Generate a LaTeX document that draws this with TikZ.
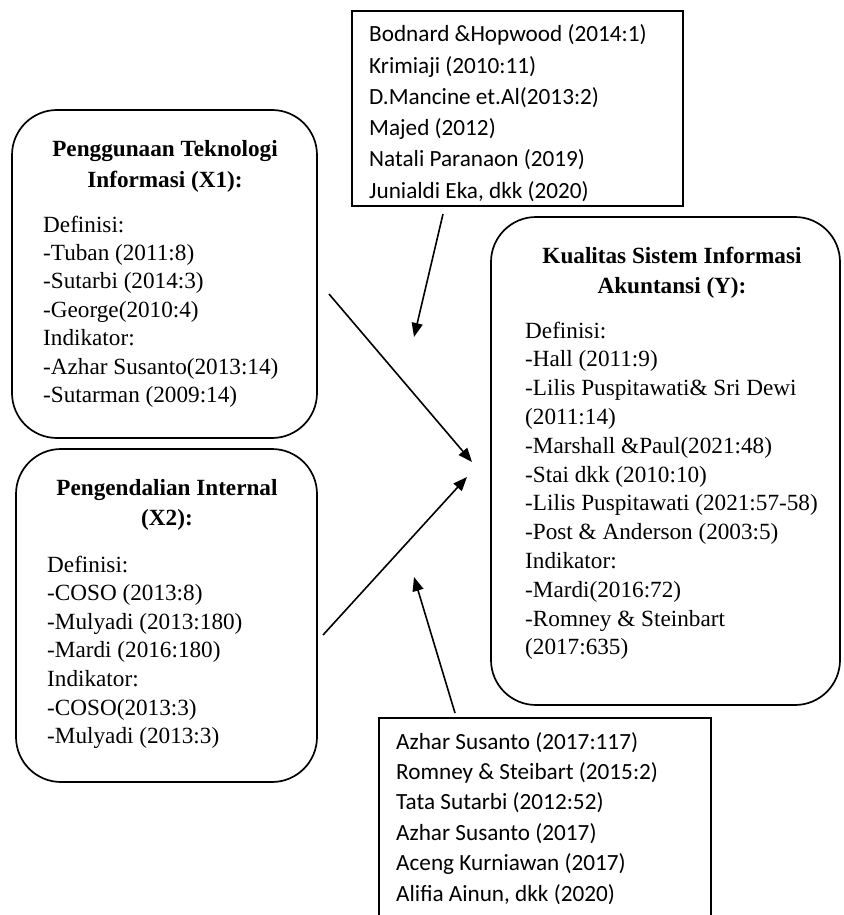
\documentclass[tikz,border=0pt]{standalone}
\usepackage{fontspec}
\setmainfont{Liberation Serif}
\newfontfamily\calibri{Carlito}
\usepackage{tikz}
\usetikzlibrary{positioning,calc,arrows.meta}

\tikzset{
  varbox/.style={draw,line width=1.7pt,rounded corners=45pt},
  refbox/.style={draw,line width=1.2pt},
  title/.style={font=\fontsize{23.2}{28}\selectfont\bfseries,anchor=base,inner sep=0pt},
  body/.style={font=\fontsize{23.2}{28}\selectfont,anchor=base west,inner sep=0pt},
  ref/.style={font=\calibri\fontsize{23.2}{28}\selectfont,anchor=base west,inner sep=0pt},
  arr/.style={line width=1.6pt,-{Triangle[length=14pt,width=11pt]}}
}

\begin{document}
\begin{tikzpicture}[x=1pt,y=-1pt]
  \useasboundingbox (0,0) rectangle (843,915);
  \clip (0,0) rectangle (843,915);

  % Variable X1
  \draw[varbox] (12,110) rectangle (317,438);
  \node[title] (x1t1) at (165,157) {Penggunaan Teknologi};
  \node[title] (x1t2) at (165,187) {Informasi (X1):};
  \foreach \t [count=\i from 0] in {Definisi:,-Tuban (2011:8),-Sutarbi (2014:3),-George(2010:4),Indikator:,-Azhar Susanto(2013:14),-Sutarman (2009:14)}
    \node[body] (x1l\i) at (43,232+\i*28.4) {\t};

  % Variable X2
  \draw[varbox] (16,449) rectangle (317,782);
  \node[title] (x2t1) at (167,495) {Pengendalian Internal};
  \node[title] (x2t2) at (167,525) {(X2):};
  \foreach \t [count=\i from 0] in {Definisi:,-COSO (2013:8),-Mulyadi (2013:180),-Mardi (2016:180),Indikator:,-COSO(2013:3),-Mulyadi (2013:3)}
    \node[body] (x2l\i) at (47,572+\i*28.6) {\t};

  % Variable Y
  \draw[varbox] (491,217) rectangle (840,705);
  \node[title] (yt1) at (672,263) {Kualitas Sistem Informasi};
  \node[title] (yt2) at (672,293) {Akuntansi (Y):};
  \foreach \t [count=\i from 0] in {Definisi:,-Hall (2011:9),-Lilis Puspitawati\& Sri Dewi,(2011:14),-Marshall \&Paul(2021:48),-Stai dkk (2010:10),-Lilis Puspitawati (2021:57-58),-Post \& Anderson (2003:5),Indikator:,-Mardi(2016:72),-Romney \& Steinbart,(2017:635)}
    \node[body] (yl\i) at (525,338+\i*28.8) {\t};

  % Referensi atas
  \draw[refbox] (352,11) rectangle (683,206);
  \foreach \t [count=\i from 0] in {Bodnard \&Hopwood (2014:1),Krimiaji (2010:11),D.Mancine et.Al(2013:2),Majed (2012),Natali Paranaon (2019),{Junialdi Eka, dkk (2020)}}
    \node[ref] (ra\i) at (369,42+\i*31.2) {\t};

  % Referensi bawah
  \draw[refbox] (379,935) |- (711,718) -- (711,935);
  \foreach \t [count=\i from 0] in {Azhar Susanto (2017:117),Romney \& Steibart (2015:2),Tata Sutarbi (2012:52),Azhar Susanto (2017),Aceng Kurniawan (2017),{Alifia Ainun, dkk (2020)}}
    \node[ref] (rb\i) at (396,749+\i*30.4) {\t};

  % Panah
  \coordinate (a1s) at (443,214);
  \coordinate (a1e) at (414,337);
  \coordinate (a2s) at (329,294);
  \coordinate (a2e) at (472,462);
  \coordinate (a3s) at (323,635);
  \coordinate (a3e) at (467,477);
  \coordinate (a4s) at (455,713);
  \coordinate (a4e) at (414,577);
  \draw[arr] (a1s) -- (a1e);
  \draw[arr] (a2s) -- (a2e);
  \draw[arr] (a3s) -- (a3e);
  \draw[arr] (a4s) -- (a4e);
\end{tikzpicture}
\end{document}
